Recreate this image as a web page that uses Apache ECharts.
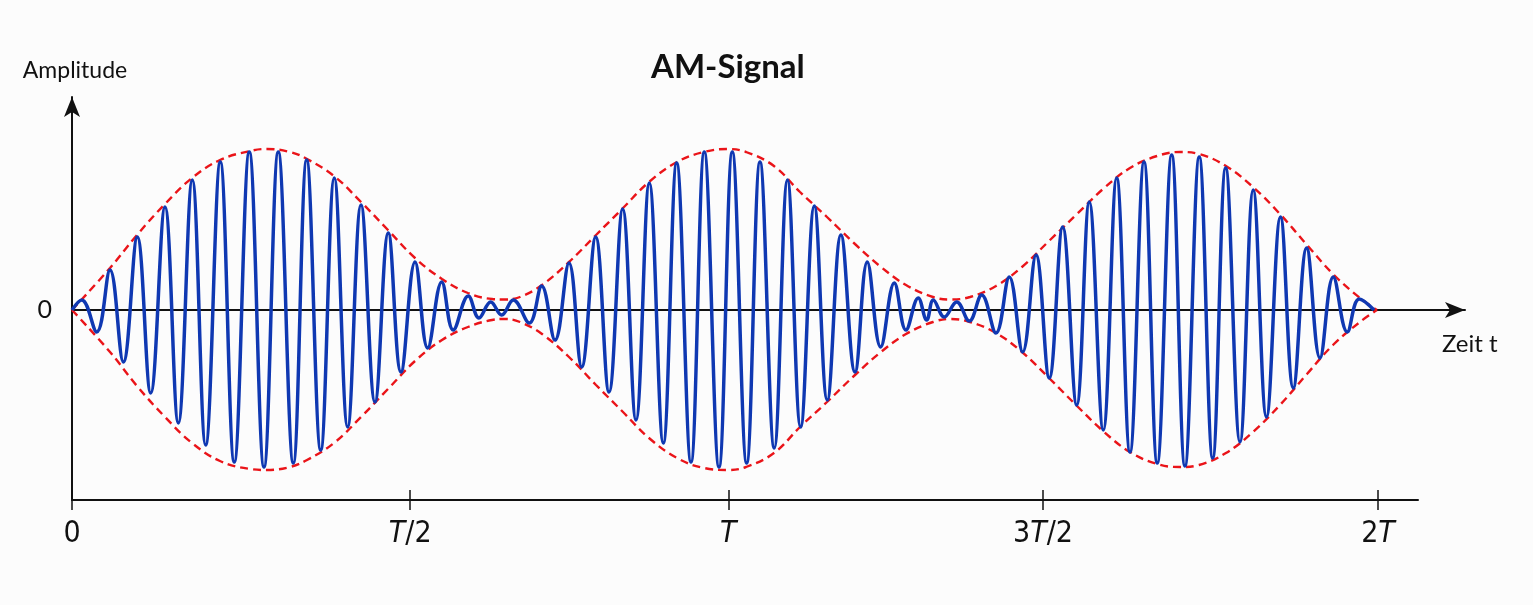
<!DOCTYPE html>
<html><head><meta charset="utf-8">
<script src="https://cdn.jsdelivr.net/npm/echarts@6/dist/echarts.min.js"></script>
<style>html,body{margin:0;padding:0;background:#fcfcfc}#c{width:1533px;height:605px}</style>
</head><body><div id="c"></div>
<script>
// time in units of the modulation period T; amplitude in arbitrary units
const carrierT = [0,0.0149,0.0378,0.0582,0.0786,0.1000,0.1205,0.1424,0.1628,0.1842,
  0.2047,0.2271,0.2485,0.2715,0.2940,0.3159,0.3389,0.3594,0.3809,0.4017,
  0.4222,0.4426,0.4640,0.4844,0.5038,0.5253,0.5447,0.5662,0.5839,0.6069,
  0.6233,0.6412,0.6580,0.6758,0.7003,0.7193,0.7397,0.7611,0.7805,0.8020,
  0.8224,0.8433,0.8637,0.8841,0.9055,0.9260,0.9479,0.9683,0.9908,1.0112,
  1.0332,1.0536,1.0755,1.0957,1.1159,1.1368,1.1567,1.1776,1.1991,1.2179,
  1.2384,1.2593,1.2772,1.2960,1.3089,1.3190,1.3358,1.3548,1.3741,1.3931,
  1.4150,1.4354,1.4559,1.4763,1.4966,1.5171,1.5386,1.5579,1.5793,1.5998,
  1.6202,1.6417,1.6620,1.6841,1.7044,1.7263,1.7469,1.7668,1.7887,1.8090,
  1.8293,1.8507,1.8703,1.8908,1.9112,1.9316,1.9530,1.9714,1.9940];
const carrierA = [0,10,-22,40,-52,73,-83,103,-113,130,
  -135,148,-152,158,-157,158,-153,150,-140,132,
  -117,105,-92,77,-62,48,-38,28,-20,14,
  -8,8,-5,10,-13,24,-30,47,-57,73,
  -82,101,-110,127,-133,147,-152,158,-157,158,
  -153,148,-138,130,-117,104,-90,75,-62,48,
  -37,27,-20,12,-10,10,-7,8,-11,15,
  -23,33,-42,55,-68,83,-95,108,-120,132,
  -142,148,-153,155,-156,153,-148,142,-132,120,
  -107,93,-78,62,-48,33,-22,11,0];
const envT = [0,0.0582,0.0995,0.1424,0.1838,0.2266,0.2726,0.2986,0.3338,0.3599,
  0.4012,0.4426,0.4839,0.5253,0.5666,0.6064,0.6432,0.6631,0.6861,0.7198,
  0.7611,0.8025,0.8438,0.8836,0.9265,0.9678,1.0046,1.0322,1.0750,1.1149,
  1.1562,1.1991,1.2389,1.2772,1.3185,1.3446,1.3752,1.4150,1.4548,1.4962,
  1.5391,1.5789,1.6202,1.6616,1.6968,1.7259,1.7672,1.8086,1.8499,1.8913,
  1.9311,1.9724,1.9985];
const envUpper = [0,42,75,106,132,150,159,161,158,151,
  134,108,80,52,31,17,11,10.5,13,25,
  48,75,102,128,148,158,161,158,144,118,
  93,66,43,25,13,10.5,13,24,43,69,
  96,121,142,154,158,156,144,123,96,65,
  36,12,0];
const envLower = [0,-42,-76,-107,-133,-151,-159,-160,-157,-150,
  -133,-107,-79,-51,-30,-17,-10,-9,-12,-24,
  -47,-75,-102,-128,-148,-158,-160,-157,-143,-117,
  -92,-65,-42,-24,-12,-9,-12,-23,-42,-68,
  -96,-121,-142,-154,-157,-155,-143,-122,-95,-64,
  -35,-12,0];
const tickPos = [0, 0.518, 1.005, 1.487, 2];
const tickLabels = ['0', 'T/2', 'T', '3T/2', '2T'];
const yZeroLabel = [0];
const chartTitle = 'AM-Signal';
const yName = 'Amplitude';
const xName = 'Zeit t';

const pair = (xs, ys) => xs.map((x, i) => [x, ys[i]]);
const XMAX = 2.0613, YMIN = -190, YMAX = 213;
const narrow = "'Liberation Sans Narrow','DejaVu Sans Condensed','Roboto Condensed','Liberation Sans',sans-serif";
const fmt = v => {
  const i = tickPos.findIndex(p => Math.abs(p - v) < 1e-6);
  if (i < 0) return '';
  return tickLabels[i].split('T').map(s => s ? '{n|' + s + '}' : '').join('{i|T}');
};
const black = '#111';
const GT = 97, GH = 403;
const chart = echarts.init(document.getElementById('c'), null, {renderer: 'canvas'});
chart.setOption({
  backgroundColor: '#fcfcfc',
  animation: false,
  title: [
    {text: chartTitle, left: 646, top: 46, textStyle: {fontSize: 33, fontWeight: 'bold', fontFamily: 'Lato', color: black}},
    {text: xName, left: 1437, top: 327, textStyle: {fontSize: 24, fontWeight: 'normal', fontFamily: 'Lato', color: black}}
  ],
  grid: [
    {left: 72, top: GT, width: 1346, height: GH},
    {left: 72, top: GT, width: 1393, height: GH},
    {left: 72, top: GT, width: 1346, height: GH}
  ],
  xAxis: [
    {gridIndex: 0, type: 'value', min: 0, max: XMAX, position: 'bottom',
     axisLine: {onZero: false, lineStyle: {color: black, width: 2}},
     splitLine: {show: false},
     axisTick: {customValues: tickPos, length: 10, lineStyle: {color: black, width: 1.5}},
     axisLabel: {customValues: tickPos, formatter: fmt, margin: 19,
       rich: {n: {fontSize: 30, fontFamily: narrow, color: black},
              i: {fontSize: 30, fontFamily: narrow, fontStyle: 'italic', color: black}}}},
    {gridIndex: 1, type: 'value', min: 0, max: 1,
     axisLine: {onZero: true, symbol: ['none', 'arrow'], symbolSize: [12, 20], lineStyle: {color: black, width: 2}},
     axisTick: {show: false}, axisLabel: {show: false}, splitLine: {show: false}},
    {gridIndex: 2, type: 'value', min: 0, max: XMAX, position: 'bottom',
     axisLine: {show: false, onZero: false}, splitLine: {show: false},
     axisTick: {customValues: tickPos, inside: true, length: 10, lineStyle: {color: black, width: 1.5}},
     axisLabel: {show: false}}
  ],
  yAxis: [
    {gridIndex: 0, type: 'value', min: YMIN, max: YMAX,
     axisLine: {onZero: false, symbol: ['none', 'arrow'], symbolSize: [12, 20], lineStyle: {color: black, width: 2}},
     axisTick: {show: false}, splitLine: {show: false},
     axisLabel: {customValues: yZeroLabel, margin: 20, fontSize: 25, fontFamily: 'Lato', color: black},
     name: yName, nameLocation: 'end', nameGap: 15,
     nameTextStyle: {fontSize: 23, fontFamily: 'Lato', color: black, align: 'center', padding: [0, 0, 0, 6]}},
    {gridIndex: 1, type: 'value', min: YMIN, max: YMAX, show: false},
    {gridIndex: 2, type: 'value', min: YMIN, max: YMAX, show: false}
  ],
  series: [
    {type: 'line', xAxisIndex: 0, yAxisIndex: 0, data: pair(envT, envUpper), smooth: 0.4,
     showSymbol: false, symbol: 'none', z: 2,
     lineStyle: {color: '#ea1419', width: 2.4, type: [8, 5]}},
    {type: 'line', xAxisIndex: 0, yAxisIndex: 0, data: pair(envT, envLower), smooth: 0.4,
     showSymbol: false, symbol: 'none', z: 2,
     lineStyle: {color: '#ea1419', width: 2.4, type: [8, 5]}},
    {type: 'line', xAxisIndex: 0, yAxisIndex: 0, data: pair(carrierT, carrierA), smooth: 0.4,
     showSymbol: false, symbol: 'none', z: 3,
     lineStyle: {color: '#0f38b2', width: 3.5}}
  ]
});
</script></body></html>
